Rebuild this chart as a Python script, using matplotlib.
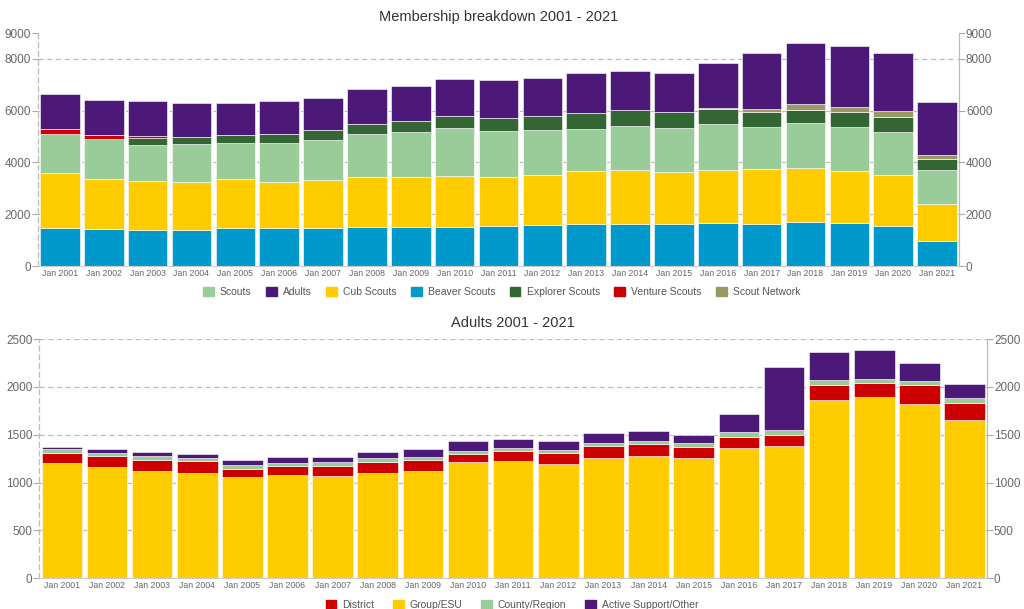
import matplotlib.pyplot as plt
import matplotlib.patches as mpatches
import numpy as np

plt.rcParams['font.family'] = ['Liberation Sans', 'DejaVu Sans']

years = ["Jan %d" % y for y in range(2001, 2022)]

# membership breakdown (stack order bottom -> top)
beaver = [1450, 1436, 1410, 1410, 1461, 1449, 1449, 1526, 1500, 1513, 1564,
          1577, 1615, 1641, 1615, 1679, 1628, 1718, 1667, 1564, 962]
cub = [2140, 1936, 1885, 1846, 1911, 1794, 1871, 1910, 1936, 1948, 1872,
       1923, 2039, 2064, 2013, 2039, 2115, 2077, 2012, 1936, 1422]
scouts = [1510, 1538, 1397, 1449, 1397, 1526, 1539, 1666, 1730, 1859, 1782,
          1743, 1641, 1692, 1718, 1769, 1629, 1718, 1705, 1679, 1308]
explorer = [0, 0, 244, 295, 282, 333, 397, 398, 424, 487, 512,
            564, 615, 628, 602, 590, 576, 512, 552, 577, 436]
venture = [190, 154, 102, 0, 0, 0, 0, 0, 0, 0, 0,
           0, 0, 0, 0, 0, 0, 0, 0, 0, 0]
network = [0, 0, 0, 0, 0, 0, 0, 0, 0, 0, 0,
           0, 0, 0, 0, 38, 103, 231, 192, 244, 167]
adults = [1370, 1346, 1321, 1307, 1256, 1282, 1244, 1320, 1346, 1423, 1449,
          1449, 1538, 1526, 1526, 1718, 2192, 2346, 2384, 2230, 2038]

# adults breakdown
group_esu = [1201, 1166, 1125, 1100, 1055, 1076, 1072, 1104, 1125, 1212, 1229,
             1191, 1257, 1281, 1260, 1358, 1379, 1863, 1898, 1825, 1654]
district = [112, 112, 115, 122, 91, 97, 105, 111, 108, 90, 101,
            115, 122, 119, 112, 115, 122, 153, 139, 191, 178]
county = [35, 35, 38, 35, 41, 35, 38, 39, 34, 32, 35,
          38, 38, 38, 45, 52, 52, 52, 45, 49, 55]
active = [24, 35, 38, 38, 46, 63, 49, 62, 81, 97, 90,
          94, 98, 101, 77, 195, 651, 293, 303, 184, 146]

c_scouts = '#99cc99'
c_adults = '#4d1979'
c_cub = '#ffcc00'
c_beaver = '#0099cc'
c_explorer = '#336633'
c_venture = '#cc0000'
c_network = '#999966'

grey = '#666666'


def style(ax, ymax, ticks):
    ax.set_xlim(-0.5, len(years) - 0.5)
    ax.set_ylim(0, ymax)
    ax.set_yticks(ticks)
    ax.set_xticks(np.arange(len(years)))
    ax.set_xticklabels(years, fontsize=6.3, color=grey)
    ax.tick_params(axis='y', labelsize=8.5, labelcolor=grey, color='#aaaaaa',
                   length=4, right=True, labelright=True, pad=1)
    ax.tick_params(axis='x', length=0, pad=2)
    ax.set_axisbelow(True)
    ax.yaxis.grid(True, linestyle=(0, (4, 3)), color='#bbbbbb', linewidth=0.9)
    ax.spines['top'].set_visible(False)
    for s in ['left', 'right']:
        ax.spines[s].set_color('#bbbbbb')
        ax.spines[s].set_linewidth(0.9)
    ax.spines['left'].set_linestyle((0, (4, 3)))
    ax.spines['bottom'].set_color('#cccccc')


def stack(ax, series, colors):
    x = np.arange(len(years))
    bottom = np.zeros(len(years))
    for vals, col in zip(series, colors):
        v = np.array(vals, dtype=float)
        ax.bar(x, v, bottom=bottom, width=0.9, color=col,
               edgecolor='white', linewidth=0.4)
        bottom += v


fig = plt.figure(figsize=(10.24, 6.09), dpi=100)

ax1 = fig.add_axes([0.0371, 0.5632, 0.8994, 0.3826])
stack(ax1, [beaver, cub, scouts, explorer, venture, network, adults],
      [c_beaver, c_cub, c_scouts, c_explorer, c_venture, c_network, c_adults])
style(ax1, 9000, [0, 2000, 4000, 6000, 8000, 9000])
ax1.get_ygridlines()[-1].set_visible(False)
ax1.get_ygridlines()[0].set_visible(False)
ax1.set_title("Membership breakdown 2001 - 2021", fontsize=10.5,
              color='#333333', pad=9)

h1 = [mpatches.Patch(color=c) for c in
      [c_scouts, c_adults, c_cub, c_beaver, c_explorer, c_venture, c_network]]
fig.legend(h1, ["Scouts", "Adults", "Cub Scouts", "Beaver Scouts",
                "Explorer Scouts", "Venture Scouts", "Scout Network"],
           loc='center', bbox_to_anchor=(0.49, 0.5205), ncol=7, frameon=False,
           fontsize=7.5, labelcolor='#555555', handlelength=1.0,
           handleheight=1.0, columnspacing=1.4, handletextpad=0.6)

ax2 = fig.add_axes([0.0384, 0.0504, 0.9255, 0.3929])
stack(ax2, [group_esu, district, county, active],
      [c_cub, c_venture, c_scouts, c_adults])
style(ax2, 2500, [0, 500, 1000, 1500, 2000, 2500])
ax2.get_ygridlines()[0].set_visible(False)
ax2.set_title("Adults 2001 - 2021", fontsize=10.5, color='#333333', pad=9)

h2 = [mpatches.Patch(color=c) for c in [c_venture, c_cub, c_scouts, c_adults]]
fig.legend(h2, ["District", "Group/ESU", "County/Region", "Active Support/Other"],
           loc='center', bbox_to_anchor=(0.5, 0.006), ncol=4, frameon=False,
           fontsize=7.5, labelcolor='#555555', handlelength=1.0,
           handleheight=1.0, columnspacing=1.8, handletextpad=0.6)

fig.savefig("out.png", dpi=100)
